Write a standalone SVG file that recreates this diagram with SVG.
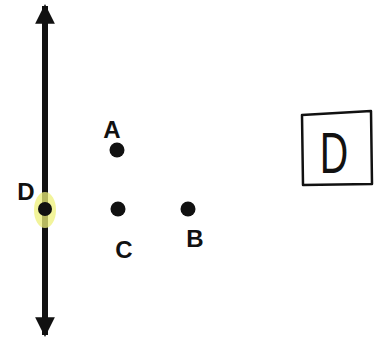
<svg xmlns="http://www.w3.org/2000/svg" width="375" height="339" viewBox="0 0 375 339">
<style>
.lbl{font-family:"Liberation Sans",Arial,sans-serif;font-size:24px;font-weight:bold;fill:#111;text-anchor:middle}
.dot{fill:#111}
</style>
<defs>
<marker id="ah" viewBox="0 0 10 10" refX="9" refY="5" markerWidth="3.3" markerHeight="3.4" orient="auto-start-reverse" markerUnits="strokeWidth">
<path d="M0,0 L10,5 L0,10 Z" fill="#111"/>
</marker>
</defs>
<rect width="375" height="339" fill="#fff"/>
<g id="connectors">
<line x1="45" y1="6" x2="45" y2="335" stroke="#111" stroke-width="6" marker-start="url(#ah)" marker-end="url(#ah)"/>
</g>
<g id="D">
<ellipse cx="45" cy="210" rx="11" ry="18" fill="#eef07a" opacity="0.75"/>
<circle class="dot" cx="45" cy="209" r="7"/>
<text class="lbl" x="26" y="200">D</text>
</g>
<g id="A">
<circle class="dot" cx="117" cy="150" r="7.5"/>
<text class="lbl" x="112" y="138">A</text>
</g>
<g id="C">
<circle class="dot" cx="118" cy="209" r="7.5"/>
<text class="lbl" x="124" y="258">C</text>
</g>
<g id="B">
<circle class="dot" cx="188" cy="209" r="7.5"/>
<text class="lbl" x="195" y="247">B</text>
</g>
<g id="boxD">
<path d="M302,115 L371,111 L372,184 L303,185 Z" fill="none" stroke="#111" stroke-width="2.5" stroke-linejoin="round"/>
<text x="0" y="0" font-family="Liberation Sans,Arial,sans-serif" font-size="58" fill="#111" text-anchor="middle" transform="translate(334,173) scale(0.68,1)">D</text>
</g>
</svg>
